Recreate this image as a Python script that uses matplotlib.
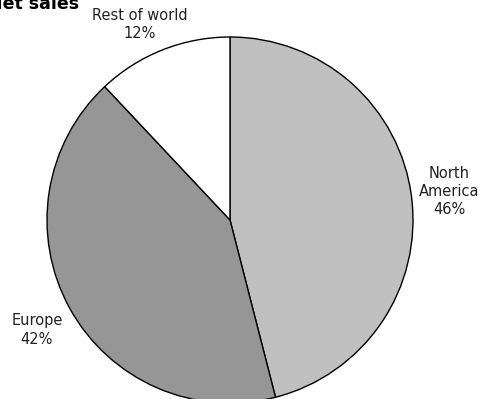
import matplotlib
matplotlib.use("Agg")
import matplotlib.pyplot as plt

title = "Net sales"
regions = ["North America", "Europe", "Rest of world"]
shares = [46, 42, 12]
colors = ["#C0C0C0", "#969696", "#FFFFFF"]
label_text = ["North\nAmerica\n46%", "Europe\n42%", "Rest of world\n12%"]
label_pos = [(449, 207), (37, 69), (140, 374)]

W, H = 485, 399
fig = plt.figure(figsize=(W / 100, H / 100), dpi=100)
ax = fig.add_axes([0, 0, 1, 1])

ax.pie(shares, colors=colors, startangle=90, counterclock=False,
       center=(230, 179), radius=183, frame=True,
       wedgeprops=dict(edgecolor="black", linewidth=1.0))
ax.set_xlim(0, W)
ax.set_ylim(0, H)
ax.set_aspect("equal")
ax.axis("off")

for txt, (x, y) in zip(label_text, label_pos):
    ax.text(x, y, txt, ha="center", va="center", fontsize=10.5,
            family="DejaVu Sans", color="#222222", linespacing=1.25)

ax.text(-12, 390, title, ha="left", va="baseline", fontsize=12.5,
        fontweight="bold", family="DejaVu Sans")

fig.savefig("out.png", dpi=100)
